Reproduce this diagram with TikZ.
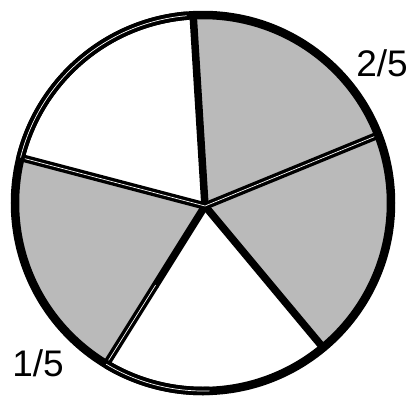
\documentclass[tikz,border=0pt]{standalone}
\usepackage{fontspec}
\setmainfont{Liberation Sans}
\usetikzlibrary{calc}
\definecolor{piegray}{RGB}{186,186,186}
\tikzset{
  spoke/.style={line width=7.5pt, line cap=round},
  dspoke/.style={line width=3.4pt, double=white, double distance=0.7pt},
  rim/.style={line width=8.5pt},
  drim/.style={line width=3.9pt, double=white, double distance=0.7pt},
  frac/.style={font=\fontsize{37}{40}\selectfont, inner sep=0pt}
}
\begin{document}
\begin{tikzpicture}[x=1pt,y=-1pt]
\useasboundingbox (0,0) rectangle (413,397);
\coordinate (c) at (203,203);
\coordinate (hub) at (205,206);
\coordinate (e1) at ($(c)+(267:188)$);
\coordinate (e2) at ($(c)+(338.8:188)$);
\coordinate (e3) at ($(c)+(50.3:188)$);
\coordinate (e4) at ($(c)+(121:188)$);
\coordinate (e5) at ($(c)+(194:188)$);
\coordinate (m4) at ($(hub)!0.5!(e4)$);
% gray sectors
\fill[piegray] (hub) -- (e1) arc[start angle=267, end angle=410.3, radius=188] -- cycle;
\fill[piegray] (hub) -- (e4) arc[start angle=121, end angle=194, radius=188] -- cycle;
% spokes
\draw[spoke] (hub) -- (e1);
\draw[spoke] (hub) -- (e3);
\draw[spoke] (hub) -- (m4);
\draw[dspoke] (hub) -- (e2);
\draw[dspoke] (hub) -- (e5);
\draw[dspoke] (m4) -- (e4);
% rim
\draw[rim] (c) circle[radius=188];
\draw[drim] (e5) arc[start angle=194, end angle=265, radius=188];
\draw[drim] ($(c)+(88:188)$) arc[start angle=88, end angle=121, radius=188];
% labels
\node[frac] (twofifths) at (382,63) {2/5};
\node[frac] (onefifth) at (38,363) {1/5};
\end{tikzpicture}
\end{document}
